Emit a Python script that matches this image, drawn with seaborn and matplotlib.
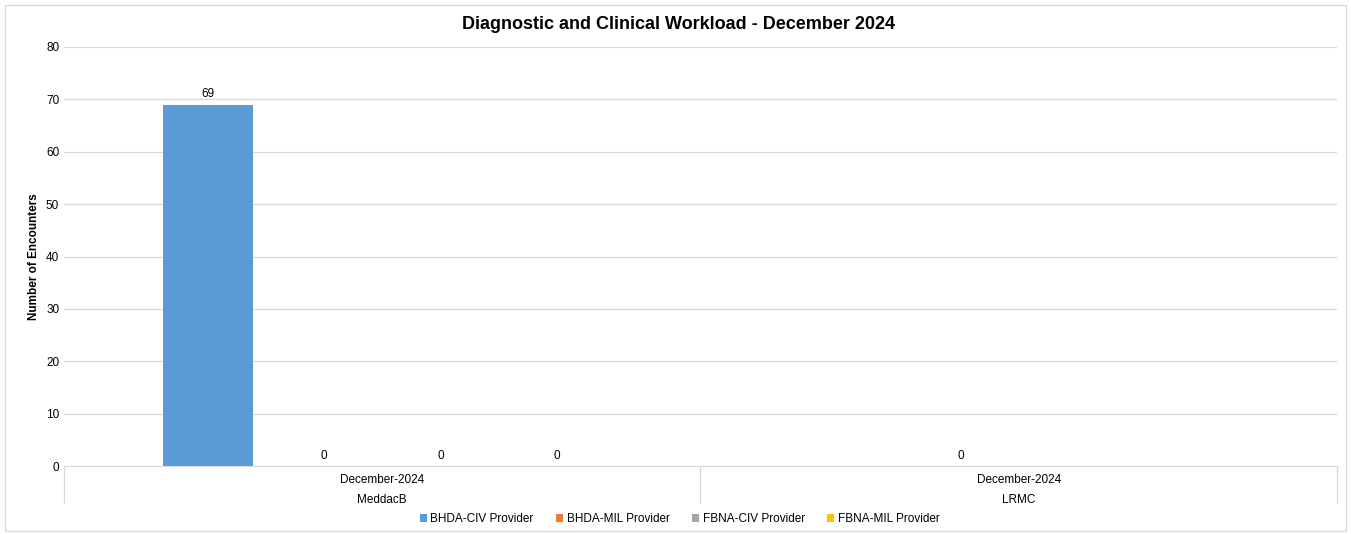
import pandas as pd
import matplotlib.pyplot as plt
import seaborn as sns
from matplotlib.patches import Rectangle

sns.set_style("white")
plt.rcParams['font.family'] = ['Liberation Sans', 'DejaVu Sans']
plt.rcParams['text.color'] = 'black'
plt.rcParams['axes.labelcolor'] = 'black'
plt.rcParams['xtick.color'] = 'black'
plt.rcParams['ytick.color'] = 'black'

# data
sites = ["MeddacB", "LRMC"]
month = "December-2024"
series = ["BHDA-CIV Provider", "BHDA-MIL Provider", "FBNA-CIV Provider", "FBNA-MIL Provider"]
meddacb_vals = [69, 0, 0, 0]
lrmc_vals = [None, 0, None, None]
colors = ["#5B9BD5", "#ED7D31", "#A5A5A5", "#FFC000"]

rows = []
for site, vals in zip(sites, [meddacb_vals, lrmc_vals]):
    for s, v in zip(series, vals):
        if v is not None:
            rows.append({"site": site, "series": s, "value": v})
df = pd.DataFrame(rows)

fig = plt.figure(figsize=(13.51, 5.34), dpi=100)
ax = fig.add_axes([0.0474, 0.1273, 0.9422, 0.7847])

sns.barplot(data=df, x="site", y="value", hue="series", order=sites, hue_order=series,
            palette=colors, saturation=1, errorbar=None, width=0.73, gap=0.22,
            linewidth=0, ax=ax, legend=True)

for cont in ax.containers:
    ax.bar_label(cont, fmt="%d", padding=3, fontsize=8.5)

ax.set_ylim(0, 80)
ax.set_yticks(range(0, 81, 10))
ax.set_xlim(-0.5, 1.5)
ax.yaxis.grid(True, color="#D9D9D9", linewidth=0.9)
ax.set_axisbelow(True)
for sp in ["top", "right", "left"]:
    ax.spines[sp].set_visible(False)
ax.spines["bottom"].set_color("#D9D9D9")
ax.tick_params(axis="both", length=0, labelsize=8.5)
ax.tick_params(axis="x", pad=6)
ax.set_xticks([0, 1])
ax.set_xticklabels([f"{month}\n{s}" for s in sites], linespacing=1.9)
ax.set_xlabel("")
ax.set_ylabel("Number of Encounters", fontsize=8.5, fontweight="bold", labelpad=4)
fig.suptitle("Diagnostic and Clinical Workload - December 2024",
             x=0.502, y=0.955, va="center", fontsize=13, fontweight="bold")

# category dividers below the axis
trans = ax.get_xaxis_transform()
for xb in [-0.5, 0.5, 1.5]:
    ax.plot([xb, xb], [0, -0.088], color="#D9D9D9", linewidth=0.9,
            transform=trans, clip_on=False)

handles, labels = ax.get_legend_handles_labels()
ax.get_legend().remove()
fig.legend(handles, labels, loc="center", bbox_to_anchor=(0.503, 0.028), ncol=4,
           frameon=False, fontsize=8.5, handlelength=0.6, handleheight=0.6,
           handletextpad=0.3, columnspacing=1.9)

fig.patches.append(Rectangle((0.004, 0.006), 0.992, 0.985, transform=fig.transFigure,
                             fill=False, edgecolor="#D9D9D9", linewidth=1))

fig.savefig("out.png", dpi=100)
